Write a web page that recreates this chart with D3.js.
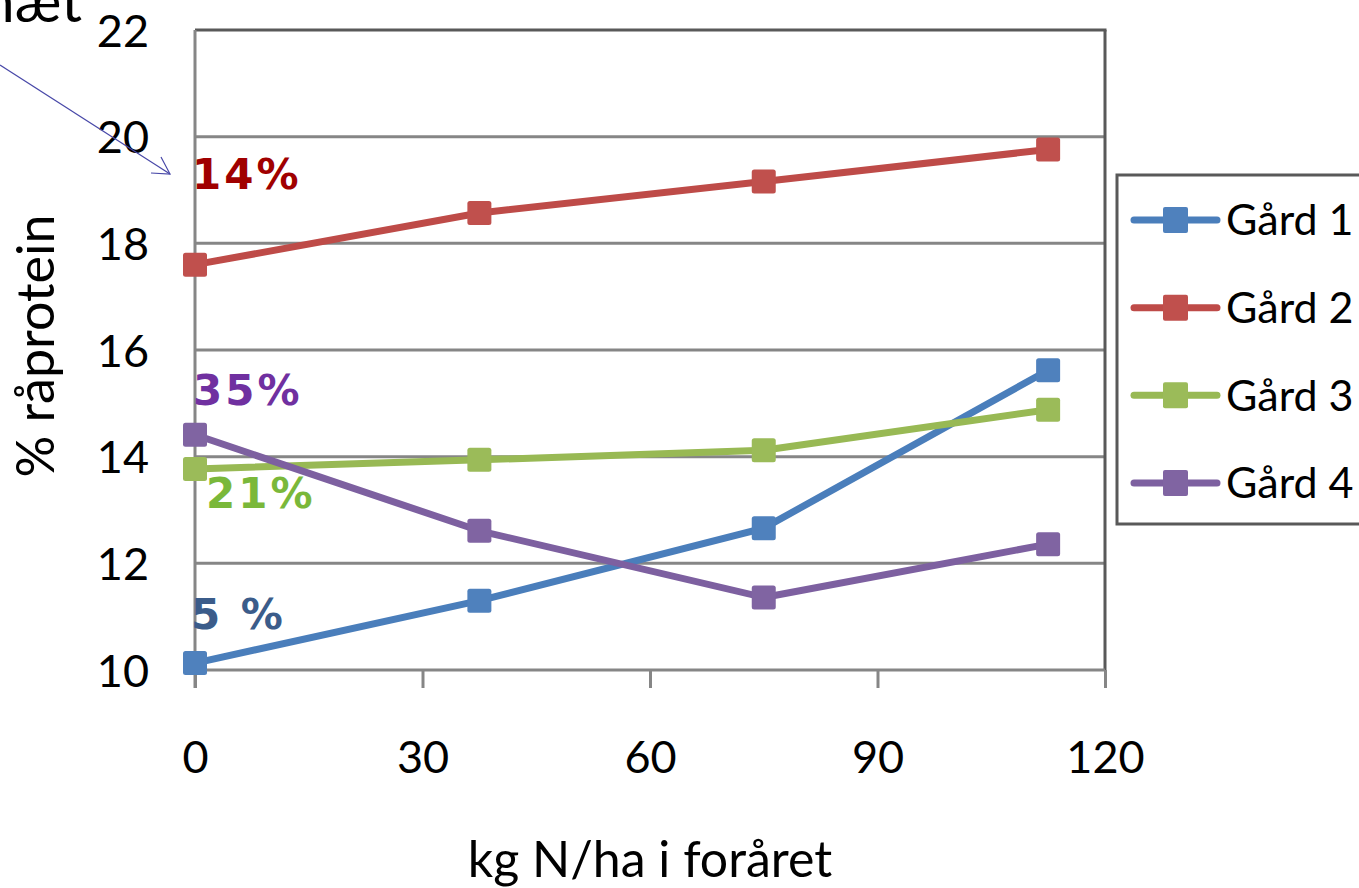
<!DOCTYPE html>
<html>
<head>
<meta charset="utf-8">
<script src="https://cdn.jsdelivr.net/npm/d3@7"></script>
<style>
  html, body { margin: 0; padding: 0; background: #fff; }
  svg { display: block; font-family: Lato, "Open Sans", sans-serif; }
</style>
</head>
<body>
<svg id="chart" width="1359" height="888"></svg>
<script>
// ---- data ----
const xValues = [0, 37.5, 75, 112.5];
const seriesNames = ["Gård 1", "Gård 2", "Gård 3", "Gård 4"];
const gaard1 = [10.13, 11.3, 12.66, 15.62];
const gaard2 = [17.6, 18.57, 19.16, 19.76];
const gaard3 = [13.77, 13.94, 14.12, 14.88];
const gaard4 = [14.41, 12.61, 11.36, 12.36];
const xTicks = [0, 30, 60, 90, 120];
const yTicks = [10, 12, 14, 16, 18, 20, 22];
const labelTexts = ["5 %", "14%", "21%", "35%"];
const xTitle = "kg N/ha i foråret";
const yTitle = "% råprotein";
const cornerText = "næt";

const lineColors = ["#4A7EBB", "#BE4B48", "#98B954", "#7D60A0"];
const markerColors = ["#4F81BD", "#C0504D", "#9BBB59", "#8064A2"];
const labelColors = ["#3B5C8A", "#A00000", "#7AB83A", "#7030A0"];

const allSeries = [gaard1, gaard2, gaard3, gaard4];

const svg = d3.select("#chart");
svg.append("rect").attr("width", 1359).attr("height", 888).attr("fill", "#fff");

const x = d3.scaleLinear().domain([0, 120]).range([195, 1105]);
const y = d3.scaleLinear().domain([10, 22]).range([670, 30]);

const gridColor = "#868686";
const borderColor = "#595959";
const sans = "Lato, 'Open Sans', sans-serif";

// gridlines
svg.append("g").selectAll("line").data(yTicks.filter(t => t > 10 && t < 22)).join("line")
  .attr("x1", x(0)).attr("x2", x(120))
  .attr("y1", d => y(d)).attr("y2", d => y(d))
  .attr("stroke", gridColor).attr("stroke-width", 3);

// plot border top/right
svg.append("line").attr("x1", x(0)).attr("x2", x(120) + 1.5).attr("y1", y(22)).attr("y2", y(22))
  .attr("stroke", borderColor).attr("stroke-width", 3);
svg.append("line").attr("x1", x(120)).attr("x2", x(120)).attr("y1", y(22)).attr("y2", y(10))
  .attr("stroke", borderColor).attr("stroke-width", 3);

// x axis
const xAxis = d3.axisBottom(x).tickValues(xTicks).tickSize(18).tickFormat(d3.format("d"));
const gx = svg.append("g").attr("transform", `translate(0,${y(10)})`).call(xAxis);
gx.attr("font-family", null).attr("font-size", null);
gx.select(".domain").attr("stroke", gridColor).attr("stroke-width", 3).attr("d", `M${x(0)},0H${x(120)}`);
gx.selectAll(".tick line").attr("stroke", gridColor).attr("stroke-width", 3);
gx.selectAll(".tick text").attr("y", 0).attr("dy", 0).attr("transform", "translate(0,103)")
  .style("font-size", "45px").style("font-family", sans).attr("fill", "#000");

// y axis
const yAxis = d3.axisLeft(y).tickValues(yTicks).tickSize(0).tickFormat(d3.format("d"));
const gy = svg.append("g").attr("transform", `translate(${x(0)},0)`).call(yAxis);
gy.attr("font-family", null).attr("font-size", null);
gy.select(".domain").attr("stroke", gridColor).attr("stroke-width", 3).attr("d", `M0,${y(22)}V${y(10) + 18}`);
gy.selectAll(".tick text").attr("x", -46).attr("dy", "0.36em")
  .style("font-size", "45px").style("font-family", sans).attr("fill", "#000");

// axis titles
svg.append("text").attr("x", (x(0) + x(120)) / 2).attr("y", 877)
  .attr("text-anchor", "middle").style("font-size", "50px").attr("fill", "#000").text(xTitle);
svg.append("text").attr("transform", `translate(54,${(y(10) + y(22)) / 2 - 4}) rotate(-90)`)
  .attr("text-anchor", "middle").style("font-size", "52px").attr("fill", "#000").text(yTitle);

// series lines + markers
const line = d3.line().x((d, i) => x(xValues[i])).y(d => y(d));
allSeries.forEach((vals, si) => {
  const g = svg.append("g");
  g.append("path").datum(vals).attr("d", line)
    .attr("fill", "none").attr("stroke", lineColors[si]).attr("stroke-width", 7)
    .attr("stroke-linejoin", "round").attr("stroke-linecap", "round");
  g.selectAll("rect").data(vals).join("rect")
    .attr("x", (d, i) => x(xValues[i]) - 12).attr("y", d => y(d) - 12)
    .attr("width", 24).attr("height", 24).attr("rx", 2.5)
    .attr("fill", markerColors[si]);
});

// data labels (percent annotations) near first points
const labelOffsets = [[-4, -34], [-3, -76], [11, 39], [-2, -30]];
allSeries.forEach((vals, si) => {
  svg.append("text")
    .attr("x", x(xValues[0]) + labelOffsets[si][0])
    .attr("y", y(vals[0]) + labelOffsets[si][1])
    .style("font-family", "'DejaVu Sans', Verdana, sans-serif").style("font-weight", "bold")
    .style("font-size", "42px").style("letter-spacing", "3px").attr("fill", labelColors[si])
    .text(labelTexts[si]);
});

// corner text and arrow
svg.append("text").attr("x", 82).attr("y", 22).attr("text-anchor", "end")
  .style("font-size", "58px").attr("fill", "#000").text(cornerText);
const tipX = x(0) - 25, tipY = y(19.3);
svg.append("line").attr("x1", 0).attr("y1", 65).attr("x2", tipX).attr("y2", tipY)
  .attr("stroke", "#4848A8").attr("stroke-width", 1.2);
svg.append("path")
  .attr("d", `M${tipX - 19},${tipY - 1}L${tipX},${tipY}L${tipX - 9},${tipY - 17}`)
  .attr("fill", "none").attr("stroke", "#4848A8").attr("stroke-width", 1.2);

// legend
const lg = svg.append("g");
lg.append("rect").attr("x", 1117).attr("y", 175).attr("width", 280).attr("height", 349)
  .attr("fill", "#fff").attr("stroke", borderColor).attr("stroke-width", 3);
const legendY = d3.scalePoint().domain(seriesNames).range([220, 483]);
seriesNames.forEach((name, si) => {
  const cy = legendY(name);
  lg.append("line").attr("x1", 1134).attr("x2", 1217).attr("y1", cy).attr("y2", cy)
    .attr("stroke", lineColors[si]).attr("stroke-width", 7).attr("stroke-linecap", "round");
  lg.append("rect").attr("x", 1163).attr("y", cy - 13).attr("width", 25).attr("height", 26)
    .attr("rx", 2).attr("fill", markerColors[si]);
  lg.append("text").attr("x", 1226).attr("y", cy).attr("dy", "0.36em")
    .style("font-size", "43px").attr("fill", "#000").text(name);
});
</script>
</body>
</html>
